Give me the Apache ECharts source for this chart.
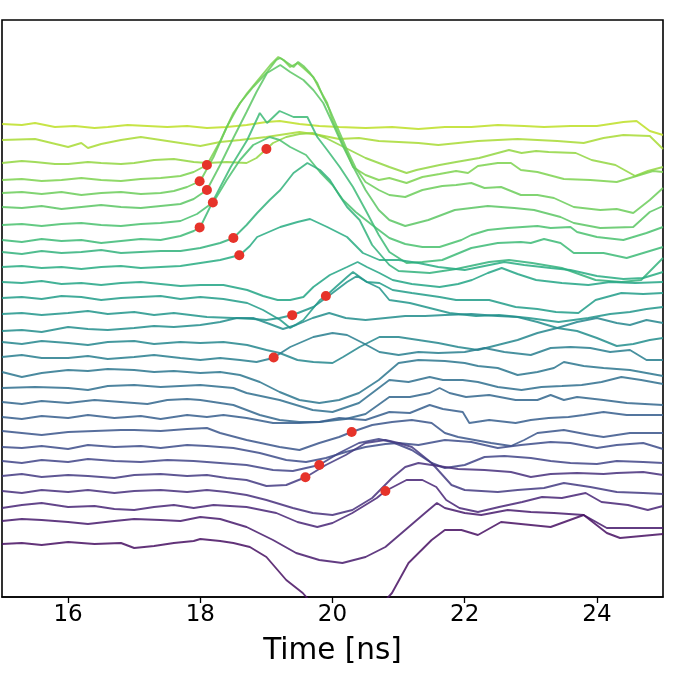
<!DOCTYPE html>
<html>
<head>
<meta charset="utf-8">
<script src="https://cdn.jsdelivr.net/npm/echarts@6/dist/echarts.min.js"></script>
<style>
  html, body { margin: 0; padding: 0; background: #fff; }
  #main { width: 674px; height: 677px; }
</style>
</head>
<body>
<div id="main"></div>
<script>
// x ticks (ns)
var xTicks = [16, 18, 20, 22, 24];

// traces, top (yellow) to bottom (purple): time [ns] and offset signal
var t01 = [15,15.3,15.5,15.8,16.1,16.4,16.6,16.9,17.2,17.5,17.8,18.1,18.4,18.7,19.0,19.2,19.5,19.8,20.1,20.5,20.9,21.3,21.7,22.1,22.5,22.9,23.2,23.6,24.0,24.2,24.4,24.6,24.8,25];
var y01 = [476,475,477,473,474,472,473,475,474,473,474,472,473,475,478,479,476,474,473,472,473,471,473,473,475,474,473,474,474,476,478,479,469,465];

var t02 = [15,15.5,16,16.2,16.3,16.5,16.8,17.1,17.4,17.7,18,18.3,18.6,19,19.3,19.5,19.8,20.1,20.4,20.7,21,21.3,21.6,21.9,22.2,22.5,22.8,23.1,23.4,23.8,24.1,24.4,24.8,25];
var y02 = [460,461,453,457,452,456,460,463,460,457,454,458,460,463,466,468,465,461,462,459,458,457,455,457,459,460,461,460,459,457,462,465,464,451];

var t03 = [15,15.3,15.5,15.8,16,16.3,16.5,16.8,17,17.3,17.6,17.9,18.1,18.4,18.7,18.85,19.0,19.1,19.3,19.5,19.7,19.9,20.2,20.5,20.86,21.12,21.27,21.62,21.87,22.22,22.67,22.86,23.08,23.27,23.68,23.92,24.28,24.58,24.77,25];
var y03 = [437,439,438,436,436,438,437,436,437,440,441,438,437,438,437,442,451,457,463,466,467,462,452,442,433,427,430,435,438,442,450,447,449,448,447,440,435,424,429,433];

var t04 = [15,15.3,15.6,15.9,16.2,16.5,16.8,17.1,17.4,17.7,17.9,18.1,18.31,18.5,18.71,18.91,19.06,19.18,19.26,19.36,19.47,19.56,19.71,19.81,19.92,20.0,20.11,20.22,20.31,20.5,20.7,20.86,21.12,21.36,21.62,21.87,22.05,22.2,22.5,22.7,22.85,23.1,23.5,23.9,24.3,24.6,24.85,25];
var y04 = [420,421,419,420,422,420,419,421,422,424,428,435,460,487,507,523,535,543,540,533,537,532,523,510,497,480,463,447,433,425,420,422,417,423,426,429,427,434,437,437,430,428,421,420,418,424,429,428];

var t05 = [15,15.3,15.6,15.9,16.2,16.5,16.8,17.1,17.4,17.6,17.8,18.0,18.2,18.4,18.6,18.8,19.0,19.15,19.21,19.3,19.41,19.48,19.56,19.66,19.77,19.86,19.96,20.07,20.22,20.35,20.5,20.7,20.86,21.1,21.36,21.66,21.87,22.1,22.3,22.55,22.85,23.1,23.35,23.65,24.05,24.3,24.55,24.8,25];
var y05 = [407,408,406,408,405,407,408,406,407,409,413,419,443,473,497,513,527,540,542,538,533,538,534,527,517,503,490,473,450,432,418,410,405,403,410,414,415,417,412,413,405,405,402,393,390,391,387,400,412];

var t06 = [15,15.3,15.6,15.9,16.2,16.5,16.8,17.1,17.4,17.7,17.9,18.1,18.3,18.5,18.7,18.85,19.01,19.21,19.36,19.56,19.71,19.86,20.0,20.15,20.3,20.5,20.7,20.86,21.1,21.45,21.85,22.35,22.75,23.05,23.45,23.65,24.05,24.55,24.8,25];
var y06 = [393,392,394,391,393,395,393,392,394,396,401,410,435,462,488,508,527,535,528,520,510,497,477,455,435,410,390,380,374,380,390,394,392,390,383,377,372,373,388,394];

var t07 = [15,15.3,15.6,15.9,16.2,16.5,16.8,17.1,17.4,17.7,17.95,18.2,18.4,18.6,18.8,19.05,19.2,19.36,19.6,19.81,20.0,20.16,20.35,20.6,20.86,21.1,21.36,21.62,21.95,22.1,22.35,22.65,23.1,23.3,23.6,23.7,24.0,24.4,24.75,25];
var y07 = [375,376,374,376,377,375,374,376,377,379,386,398,420,440,455,463,460,453,445,428,415,400,388,375,362,356,353,353,360,365,370,372,374,372,373,368,363,360,367,373];

var t08 = [15,15.3,15.6,15.9,16.2,16.5,16.8,17.1,17.4,17.7,17.9,18.0,18.2,18.46,18.71,18.9,19.01,19.2,19.41,19.62,19.77,19.92,20.11,20.31,20.5,20.7,20.86,21.12,21.36,21.66,22.1,22.5,22.85,23.0,23.2,23.45,23.65,24.1,24.45,25];
var y08 = [360,358,361,359,360,357,359,361,360,364,369,373,400,433,460,487,477,489,483,483,463,450,433,413,390,365,348,337,338,340,352,357,358,357,361,357,347,347,342,353];

var t09 = [15,15.3,15.6,15.9,16.2,16.5,16.8,17.1,17.4,17.7,18.0,18.3,18.5,18.7,18.86,19.05,19.21,19.41,19.62,19.81,19.96,20.1,20.22,20.41,20.6,20.86,21.0,21.47,21.87,22.37,22.67,23.02,23.47,23.98,24.37,24.67,25];
var y09 = [348,346,349,347,348,350,347,348,349,349,352,357,362,375,387,400,410,427,437,430,420,405,393,380,355,335,329,327,331,338,340,337,332,320,318,320,342];

var t10 = [15,15.3,15.6,15.9,16.2,16.5,16.8,17.1,17.4,17.7,18.0,18.3,18.6,18.75,18.86,19.21,19.47,19.66,19.92,20.22,20.46,20.71,21.0,21.3,21.6,22.0,22.3,22.6,22.9,23.3,23.6,24.0,24.4,24.7,25];
var y10 = [333,334,332,333,331,333,334,332,333,334,337,340,345,354,363,373,378,381,373,363,347,340,340,337,333,330,334,338,335,332,330,324,321,322,328];

var t11 = [15,15.3,15.6,15.9,16.2,16.5,16.8,17.1,17.4,17.7,18.0,18.35,18.71,18.95,19.17,19.36,19.56,19.71,19.96,20.22,20.38,20.52,20.71,20.91,21.2,21.62,21.9,22.11,22.35,22.56,22.8,23.08,23.47,23.87,24.2,24.58,25];
var y11 = [318,317,319,316,317,315,317,318,316,314,315,315,310,304,300,300,303,313,325,333,338,333,327,320,316,313,316,320,327,332,326,320,317,315,318,317,318];

var t12 = [15,15.3,15.6,15.9,16.2,16.5,16.8,17.1,17.4,17.7,18.0,18.35,18.71,18.95,19.21,19.36,19.56,19.81,19.9,20.05,20.22,20.31,20.52,20.71,20.91,21.2,21.62,21.87,22.37,22.77,23.1,23.38,23.72,23.98,24.37,24.7,25];
var y12 = [302,303,301,304,303,300,302,303,304,301,303,301,297,290,280,272,280,300,304,313,323,328,318,317,310,307,303,300,300,293,291,288,287,300,307,306,307];

var t13 = [15,15.3,15.6,16.0,16.3,16.6,17.0,17.3,17.6,18.1,18.5,18.8,19.0,19.2,19.4,19.71,19.92,20.22,20.37,20.52,20.71,20.86,21.17,21.47,21.77,22.17,22.52,22.97,23.42,23.87,24.2,24.5,24.75,25];
var y13 = [286,287,285,287,289,286,288,285,287,283,282,281,280,282,285,293,303,318,324,318,312,300,297,292,287,284,285,282,278,282,286,288,291,293];

var t14 = [15,15.3,15.6,16.0,16.3,16.6,17.0,17.3,17.6,18.0,18.3,18.55,18.8,19.05,19.25,19.45,19.7,19.95,20.2,20.5,20.8,21.1,21.4,21.7,22.1,22.5,22.8,23.1,23.4,23.7,24.0,24.3,24.55,24.8,25];
var y14 = [269,270,268,273,271,270,272,274,273,275,278,282,282,276,271,275,282,287,282,280,282,284,284,285,286,284,283,278,272,269,262,254,256,260,262];

var t15 = [15,15.3,15.6,16.0,16.3,16.6,17.0,17.3,17.7,18.0,18.35,18.71,19.0,19.2,19.47,19.71,20.0,20.16,20.41,20.71,21.0,21.3,21.6,21.9,22.2,22.5,22.8,23.1,23.4,23.7,24.0,24.3,24.5,24.75,25];
var y15 = [258,256,259,257,255,258,259,256,258,257,258,255,250,247,240,238,237,243,253,263,263,260,257,253,250,255,260,267,272,278,282,277,275,280,277];

var t16 = [15,15.3,15.6,16.0,16.3,16.6,17.0,17.3,17.7,18.0,18.3,18.6,18.85,19.1,19.36,19.71,20.0,20.22,20.46,20.71,21.0,21.3,21.6,22.0,22.3,22.6,23.0,23.3,23.6,23.9,24.2,24.5,24.75,25];
var y16 = [243,245,242,242,244,241,243,245,242,240,242,240,238,242,253,263,267,265,257,248,245,248,247,248,252,248,245,252,253,252,248,250,240,240];

var t17 = [15,15.3,15.6,16.0,16.3,16.6,17.0,17.3,17.6,18.0,18.3,18.6,18.9,19.2,19.5,19.8,20.1,20.4,20.7,21.0,21.3,21.7,22.0,22.2,22.5,22.8,23.1,23.35,23.5,23.8,24.1,24.5,25];
var y17 = [228,223,227,230,229,231,230,228,229,227,228,225,218,208,200,197,200,207,220,237,240,239,237,234,232,225,228,232,238,234,232,230,224];

var t18 = [15,15.5,16.0,16.3,16.6,17.0,17.4,17.7,18.0,18.5,18.7,19.2,19.7,20.0,20.4,20.6,20.86,21.15,21.47,21.67,21.97,22.2,22.5,22.86,23.16,23.47,23.77,24.07,24.37,24.67,25];
var y18 = [212,213,212,210,214,215,213,214,215,212,207,200,190,188,197,207,220,218,223,220,220,218,213,210,213,214,215,218,223,220,216];

var t19 = [15,15.3,15.6,16.0,16.4,16.8,17.2,17.5,17.8,18.0,18.5,18.9,19.2,19.5,19.8,20.2,20.5,20.86,21.17,21.47,21.62,21.77,22.02,22.37,22.77,23.1,23.3,23.5,23.7,24.1,24.45,25];
var y19 = [198,196,199,197,200,198,196,200,201,200,195,185,180,178,178,181,186,203,203,207,212,207,203,205,200,200,205,200,203,200,197,195];

var t20 = [15,15.3,15.6,16.0,16.3,16.7,17.1,17.4,17.8,18.1,18.35,18.7,19.1,19.5,19.8,20.1,20.5,20.86,21.17,21.47,21.67,21.97,22.07,22.37,22.77,23.0,23.27,23.57,23.8,24.1,24.45,25];
var y20 = [183,181,184,182,185,182,184,181,185,183,185,182,177,177,178,182,180,188,187,195,191,188,177,180,177,180,182,183,185,188,185,185];

var t21 = [15,15.3,15.6,16.0,16.4,16.8,17.0,17.4,17.8,18.1,18.3,18.7,19.2,19.5,19.8,20.1,20.29,20.6,20.9,21.2,21.5,21.7,21.9,22.4,22.7,22.9,23.1,23.5,23.9,24.1,24.5,25];
var y21 = [169,167,165,168,169,170,170,169,171,172,167,160,153,150,157,163,168,175,178,180,177,167,163,157,154,160,167,170,165,163,167,167];

var t22 = [15,15.3,15.6,16.0,16.3,16.7,17.1,17.4,17.8,18.1,18.5,18.9,19.3,19.6,19.9,20.2,20.5,20.8,21.0,21.3,21.7,22.1,22.5,22.85,23.3,23.6,24.0,24.3,24.7,25];
var y22 = [153,152,154,151,155,153,154,152,155,154,152,147,140,138,142,148,153,156,157,155,160,158,152,155,158,157,152,155,157,151];

var t23 = [15,15.3,15.6,16.0,16.3,16.7,17.1,17.5,17.9,18.3,18.7,19.1,19.4,19.6,19.8,20.1,20.4,20.7,20.9,21.2,21.5,21.7,22.0,22.3,22.6,23.0,23.3,23.6,24.0,24.3,24.7,25];
var y23 = [139,137,140,138,141,139,138,140,139,137,135,130,129,132,135,147,157,161,158,150,137,132,135,143,144,142,139,137,136,139,138,137];

var t24 = [15,15.3,15.6,16.0,16.3,16.7,17.0,17.4,17.8,18.1,18.4,18.7,19.0,19.3,19.6,19.9,20.2,20.5,20.8,21.0,21.2,21.5,21.8,22.0,22.5,22.8,23.2,23.5,23.9,24.3,24.7,25];
var y24 = [124,126,123,125,124,122,125,126,124,125,122,120,114,115,123,135,145,157,160,157,153,137,115,110,108,110,112,117,113,108,107,106];

var t25 = [15,15.3,15.6,16.0,16.3,16.7,17.0,17.4,17.8,18.1,18.4,18.7,19.0,19.4,19.7,20.0,20.3,20.6,20.9,21.1,21.3,21.6,21.9,22.3,22.7,23.0,23.3,23.7,24.1,24.3,24.7,25];
var y25 = [109,107,110,108,110,107,109,110,108,110,108,105,100,92,87,85,90,102,122,133,137,134,131,130,128,123,126,127,126,127,128,125];

var t26 = [15,15.3,15.6,16.0,16.4,16.7,17.0,17.3,17.6,17.9,18.2,18.7,19.15,19.47,19.77,20.0,20.3,20.67,20.8,21.12,21.36,21.57,21.72,21.92,22.2,22.52,22.87,23.17,23.47,23.83,24.07,24.47,24.77,25];
var y26 = [92,95,97,93,94,91,90,93,95,92,95,93,87,78,73,77,87,102,109,120,120,113,100,92,88,93,98,103,102,107,98,95,90,94];

var t27 = [15,15.3,15.6,16.0,16.3,16.7,17.0,17.4,17.7,18.0,18.3,18.7,19.1,19.45,19.8,20.15,20.5,20.8,21.1,21.4,21.58,21.7,22.0,22.25,22.65,23.0,23.35,23.8,24.15,24.5,25];
var y27 = [79,81,80,78,76,79,81,80,79,83,81,73,60,47,40,37,43,53,70,87,97,92,87,85,90,88,87,85,72,72,72];

var t28 = [15,15.3,15.6,16.0,16.4,16.8,17.0,17.3,17.6,17.9,18.0,18.3,18.5,18.75,19.0,19.3,19.55,19.8,20.2,20.6,20.9,21.15,21.5,21.7,21.95,22.2,22.55,23.0,23.3,23.8,24.15,24.35,25];
var y28 = [56,57,55,58,56,57,52,54,57,59,61,59,57,53,43,20,7,-12,-25,-15,7,37,60,70,70,65,78,75,73,85,67,62,66];

// picked arrival times: [trace number, time ns]
var onsets = [[4,18.10],[5,17.99],[6,18.10],[7,18.19],[8,17.99],[9,18.50],[10,18.59],[3,19.0],
              [13,19.39],[12,19.90],[16,19.11],[21,20.29],[23,19.80],[24,19.59],[26,20.80]];

var times = [t01,t02,t03,t04,t05,t06,t07,t08,t09,t10,t11,t12,t13,t14,t15,t16,t17,t18,t19,t20,t21,t22,t23,t24,t25,t26,t27,t28];
var values = [y01,y02,y03,y04,y05,y06,y07,y08,y09,y10,y11,y12,y13,y14,y15,y16,y17,y18,y19,y20,y21,y22,y23,y24,y25,y26,y27,y28];

// viridis colormap
var vir = ['#440154','#482475','#414487','#355f8d','#2a788e','#21918c','#22a884','#44bf70','#7ad151','#bddf26','#fde725'];
function hex2rgb(h){ return [parseInt(h.substr(1,2),16),parseInt(h.substr(3,2),16),parseInt(h.substr(5,2),16)]; }
function viridis(t){
  var p = t*10, i = Math.min(9, Math.floor(p)), f = p - i;
  var a = hex2rgb(vir[i]), b = hex2rgb(vir[i+1]);
  return 'rgb(' + [0,1,2].map(function(k){ return Math.round(a[k]+(b[k]-a[k])*f); }).join(',') + ')';
}

function valueAt(n, x){
  var t = times[n-1], v = values[n-1];
  for (var i = 1; i < t.length; i++) {
    if (x <= t[i]) { var f = (x - t[i-1])/(t[i]-t[i-1]); return v[i-1] + (v[i]-v[i-1])*f; }
  }
  return v[v.length-1];
}

var series = [];
var n = times.length;
for (var i = 0; i < n; i++) {
  var pts = [];
  for (var j = 0; j < times[i].length; j++) pts.push([times[i][j], values[i][j]]);
  series.push({
    type: 'line', data: pts, showSymbol: false, symbol: 'none', clip: true, z: 2,
    lineStyle: { width: 1.9, color: viridis(0.9 - i*0.86/(n-1)), opacity: 0.85 },
    silent: true
  });
}
series.push({
  type: 'scatter', z: 10, symbolSize: 10,
  itemStyle: { color: '#e6332a', opacity: 1 },
  data: onsets.map(function(o){ return [o[1], valueAt(o[0], o[1])]; })
});

var chart = echarts.init(document.getElementById('main'));
var option = {
  animation: false,
  backgroundColor: '#fff',
  grid: { left: 2, right: 11, top: 20, bottom: 80, show: true, borderColor: '#000', borderWidth: 1.6 },
  xAxis: {
    type: 'value', min: 15, max: 25,
    axisLine: { show: true, lineStyle: { color: '#000', width: 1.6 } },
    axisTick: { show: true, length: 6, lineStyle: { color: '#000', width: 1.3 }, customValues: xTicks },
    axisLabel: { customValues: xTicks, color: '#000', fontSize: 23, margin: 7, fontFamily: 'DejaVu Sans' },
    splitLine: { show: false },
    name: 'Time [ns]', nameLocation: 'middle', nameGap: 39,
    nameTextStyle: { fontSize: 29.5, color: '#000', fontFamily: 'DejaVu Sans' }
  },
  yAxis: { type: 'value', min: 3, max: 580, show: false },
  series: series
};
chart.setOption(option);
</script>
</body>
</html>
